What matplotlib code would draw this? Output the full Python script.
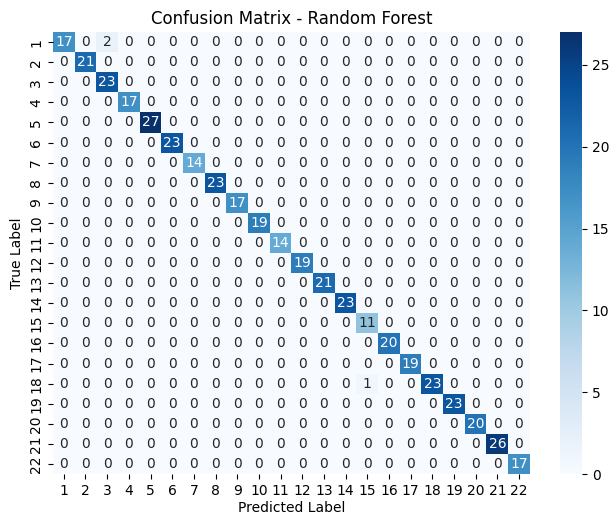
import numpy as np
import matplotlib.pyplot as plt
import seaborn as sns

# class labels 1..22 and the counts on the diagonal
labels = [str(i) for i in range(1, 23)]
correct = [17, 21, 23, 17, 27, 23, 14, 23, 17, 19, 14, 19, 21, 23, 11, 20, 19, 23, 23, 20, 26, 17]

# misclassified samples: (true row, predicted col, count)
errors = [(1, 3, 2), (18, 15, 1)]

cm = np.diag(correct)
for t, p, n in errors:
    cm[t - 1, p - 1] = n

fig = plt.figure(figsize=(6.09, 5.17), dpi=100)
ax = fig.add_axes([0.087, 0.083, 0.783, 0.855])
cax = fig.add_axes([0.920, 0.083, 0.036, 0.855])
sns.heatmap(cm, annot=True, fmt='d', cmap='Blues', ax=ax, cbar_ax=cax,
            xticklabels=labels, yticklabels=labels, annot_kws={'size': 10})
ax.set_yticklabels(labels, rotation=90, va='center')
ax.set_title("Confusion Matrix - Random Forest")
ax.set_xlabel("Predicted Label", labelpad=2)
ax.set_ylabel("True Label")
cax.tick_params(labelsize=10)

plt.savefig("out.png", dpi=100)
